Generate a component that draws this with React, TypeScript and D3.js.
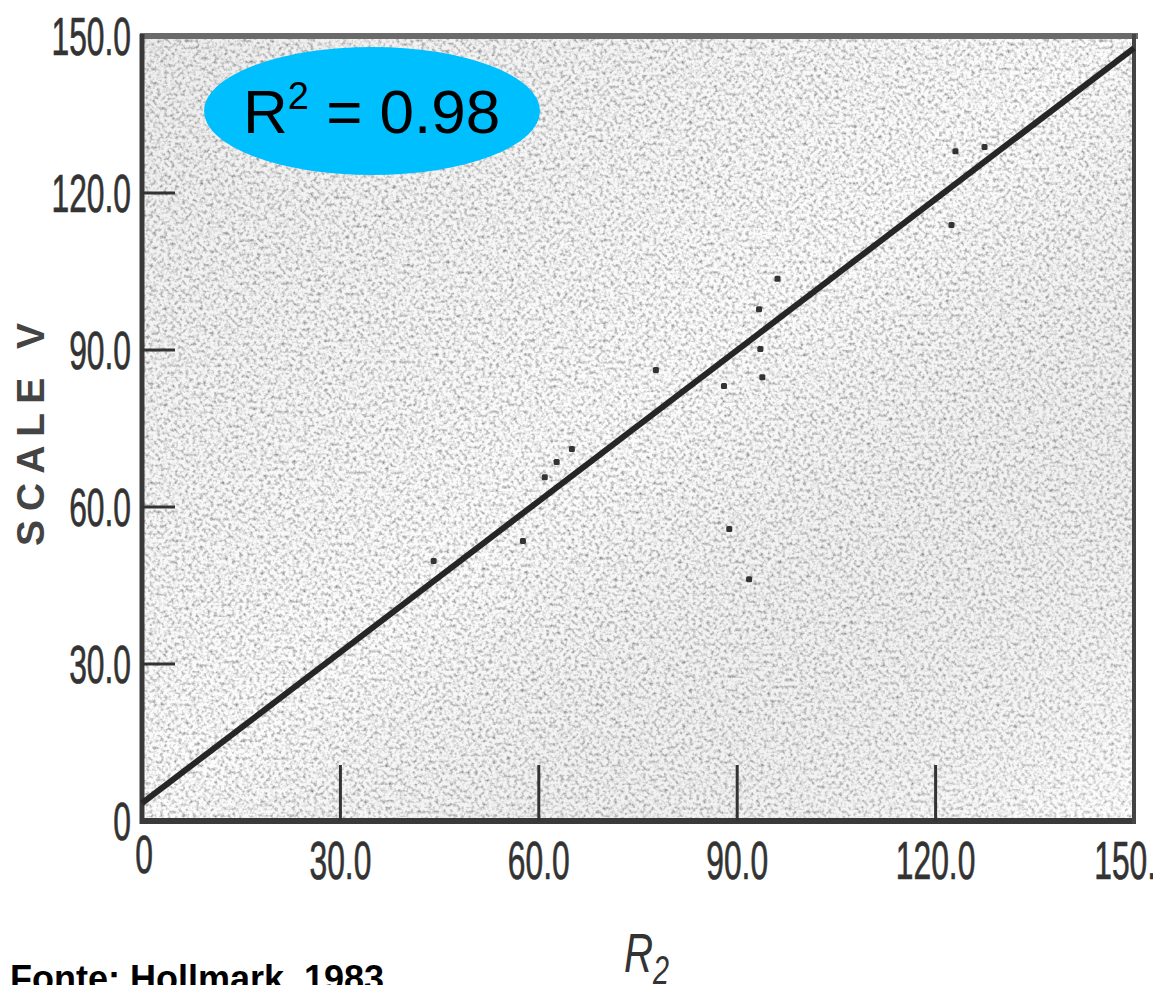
import React, { useEffect, useRef } from 'react';
import * as d3 from 'd3';

// axis values
const axisTicks = [0, 30, 60, 90, 120, 150];
const tickLabels = ['0', '30.0', '60.0', '90.0', '120.0', '150.0'];
const innerTicks = [30, 60, 90, 120];

// fitted line, R2 against Scale V
const fitX = [0, 150];
const fitY = [3.4, 147.7];

// the scattered points
const pointsX = [44.1, 57.6, 60.9, 62.7, 65.0, 77.7, 88.0, 88.8, 91.8, 93.3, 93.5, 93.8, 96.1, 122.4, 123.0, 127.4];
const pointsY = [49.7, 53.5, 65.7, 68.6, 71.1, 86.2, 83.1, 55.8, 46.2, 97.8, 90.2, 84.8, 103.6, 113.9, 128.0, 128.8];

const rSquared = '0.98';
const source = 'Fonte: Hollmark, 1983';

const W = 1153;
const H = 985;

export default function App() {
  const ref = useRef<SVGSVGElement>(null);

  useEffect(() => {
    const svg = d3.select(ref.current);
    svg.selectAll('*').remove();

    const x = d3.scaleLinear().domain([0, 150]).range([142, 1134]);
    const y = d3.scaleLinear().domain([0, 150]).range([821, 36]);
    const narrow = 'Liberation Sans, Arial, sans-serif';

    const defs = svg.append('defs');
    const f = defs.append('filter').attr('id', 'grain')
      .attr('x', 0).attr('y', 0).attr('width', 1).attr('height', 1);
    f.append('feTurbulence')
      .attr('type', 'fractalNoise')
      .attr('baseFrequency', 0.28)
      .attr('numOctaves', 2)
      .attr('seed', 7)
      .attr('result', 'n');
    f.append('feColorMatrix')
      .attr('in', 'n')
      .attr('type', 'matrix')
      .attr('values', '1.6 0 0 0 0.08  1.6 0 0 0 0.08  1.6 0 0 0 0.08  0 0 0 0 1');

    const grad = defs.append('linearGradient').attr('id', 'shade')
      .attr('x1', 0).attr('y1', 0).attr('x2', 1).attr('y2', 1);
    grad.append('stop').attr('offset', 0).attr('stop-color', '#000').attr('stop-opacity', 0.07);
    grad.append('stop').attr('offset', 0.5).attr('stop-color', '#000').attr('stop-opacity', 0.01);
    grad.append('stop').attr('offset', 1).attr('stop-color', '#fff').attr('stop-opacity', 0.2);

    const [x0, x1] = x.range();
    const [y0, y1] = y.range();

    // scanned paper background
    svg.append('rect')
      .attr('x', x0).attr('y', y1).attr('width', x1 - x0).attr('height', y0 - y1)
      .attr('filter', 'url(#grain)');
    svg.append('rect')
      .attr('x', x0).attr('y', y1).attr('width', x1 - x0).attr('height', y0 - y1)
      .attr('fill', 'url(#shade)');

    // frame
    svg.append('line').attr('x1', x0 - 2).attr('x2', x1 + 4).attr('y1', y1).attr('y2', y1)
      .attr('stroke', '#6a6a6a').attr('stroke-width', 6);
    svg.append('line').attr('x1', x0).attr('x2', x0).attr('y1', y1 - 2).attr('y2', y0 + 3)
      .attr('stroke', '#383838').attr('stroke-width', 5);
    svg.append('line').attr('x1', x0 - 2).attr('x2', x1 + 2).attr('y1', y0).attr('y2', y0)
      .attr('stroke', '#3a3a3a').attr('stroke-width', 6);
    svg.append('line').attr('x1', x1).attr('x2', x1).attr('y1', y1 - 2).attr('y2', y0 + 3)
      .attr('stroke', '#444').attr('stroke-width', 4);

    // inner ticks
    svg.selectAll('.ytick').data(innerTicks).enter().append('line')
      .attr('x1', x0).attr('x2', x0 + 33)
      .attr('y1', (d) => y(d)).attr('y2', (d) => y(d))
      .attr('stroke', '#333').attr('stroke-width', 3);
    svg.selectAll('.xtick').data(innerTicks).enter().append('line')
      .attr('x1', (d) => x(d)).attr('x2', (d) => x(d))
      .attr('y1', y0).attr('y2', y0 - 56)
      .attr('stroke', '#333').attr('stroke-width', 3);

    // fitted line
    const line = d3.line<number>()
      .x((d, i) => x(fitX[i]))
      .y((d) => y(d));
    svg.append('path')
      .attr('d', line(fitY))
      .attr('fill', 'none')
      .attr('stroke', '#262626')
      .attr('stroke-width', 6);

    svg.selectAll('.pt').data(pointsX).enter().append('rect')
      .attr('x', (d) => x(d) - 3)
      .attr('y', (d, i) => y(pointsY[i]) - 3)
      .attr('width', 6).attr('height', 6)
      .attr('rx', 1.5)
      .attr('fill', '#333');

    // tick labels, condensed like the original typeface
    axisTicks.forEach((v, i) => {
      svg.append('text')
        .attr('transform', 'translate(131,' + y(v) + ') scale(0.6,1)')
        .attr('text-anchor', 'end')
        .attr('dy', '0.36em')
        .attr('font-family', narrow)
        .attr('font-size', 53)
        .attr('fill', '#333')
        .attr('stroke', '#333')
        .attr('stroke-width', 0.7)
        .text(tickLabels[i]);
      svg.append('text')
        .attr('transform', 'translate(' + (x(v) + (v === 0 ? 2 : 0)) + ',' + (v === 0 ? 854 : 860) + ') scale(0.6,1)')
        .attr('text-anchor', 'middle')
        .attr('dy', '0.36em')
        .attr('font-family', narrow)
        .attr('font-size', 53)
        .attr('fill', '#333')
        .attr('stroke', '#333')
        .attr('stroke-width', 0.7)
        .text(tickLabels[i]);
    });

    // axis titles
    svg.append('text')
      .attr('transform', 'translate(30,430) rotate(-90)')
      .attr('text-anchor', 'middle')
      .attr('dy', '0.36em')
      .attr('font-family', 'Liberation Sans, Arial, sans-serif')
      .attr('font-weight', 'bold')
      .attr('font-size', 39)
      .attr('letter-spacing', 9)
      .attr('fill', '#444')
      .text('SCALE V');

    const r2 = svg.append('text')
      .attr('transform', 'translate(624,972) scale(0.72,1)')
      .attr('font-family', narrow)
      .attr('font-style', 'italic')
      .attr('font-size', 56)
      .attr('fill', '#333');
    r2.append('tspan').text('R');
    r2.append('tspan').attr('dy', 12).attr('font-size', 40).text('2');

    // R squared badge
    svg.append('ellipse')
      .attr('cx', 372).attr('cy', 111).attr('rx', 168).attr('ry', 64)
      .attr('fill', '#00BFFF');
    const badge = svg.append('text')
      .attr('x', 243).attr('y', 133)
      .attr('font-family', 'Liberation Sans, Arial, sans-serif')
      .attr('font-size', 62)
      .attr('fill', '#000');
    badge.append('tspan').text('R');
    badge.append('tspan').attr('dy', -24).attr('font-size', 38).text('2');
    badge.append('tspan').attr('dy', 24).text(' = ' + rSquared);

    svg.append('text')
      .attr('x', 10).attr('y', 991)
      .attr('font-family', 'Liberation Sans, Arial, sans-serif')
      .attr('font-weight', 'bold')
      .attr('font-size', 36)
      .attr('fill', '#000')
      .text(source);
  }, []);

  return (
    <svg
      ref={ref}
      width={W}
      height={H}
      style={{ position: 'absolute', left: 0, top: 0, background: '#fff', overflow: 'hidden' }}
    />
  );
}
